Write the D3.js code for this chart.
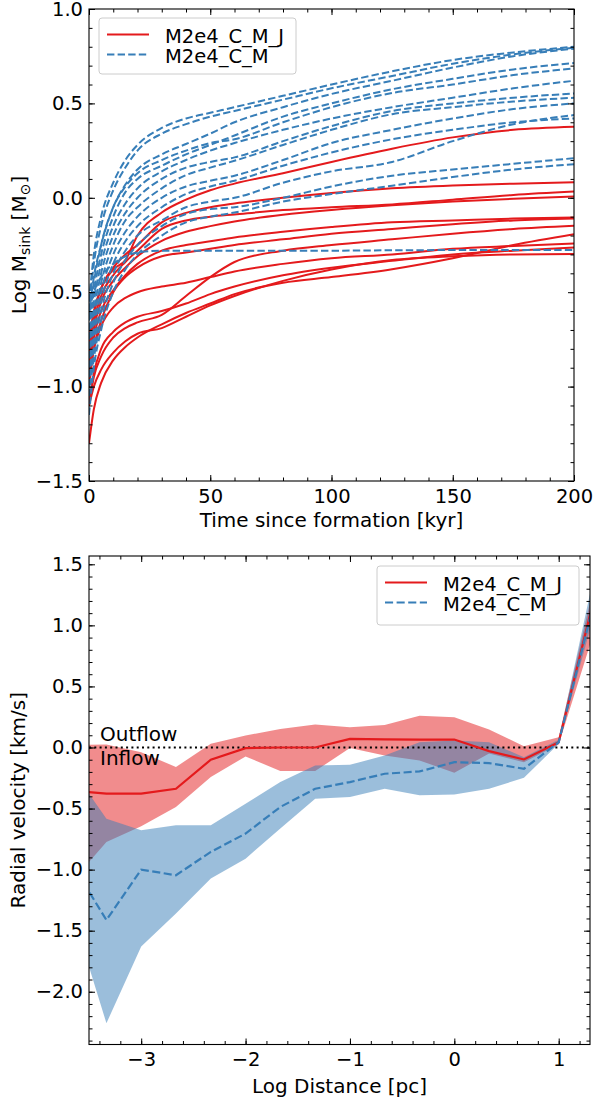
<!DOCTYPE html>
<html><head><meta charset="utf-8">
<script src="https://cdn.jsdelivr.net/npm/d3@7"></script>
<style>body{margin:0;background:#fff} svg text{font-family:"DejaVu Sans",sans-serif;fill:#000}</style>
</head><body><svg id="c" width="594" height="1103"></svg>
<script>
// ---------- DATA: top panel (sink mass growth) ----------
const times = [0,2,5,10,15,20,30,40,50,60,80,100,125,150,175,200];
const redRuns = [
  [-0.75,-0.6,-0.48,-0.38,-0.33,-0.2,-0.078,-0.01,0.04,0.075,0.13,0.19,0.26,0.32,0.36,0.376],
  [-0.8,-0.62,-0.48,-0.37,-0.3,-0.25,-0.13,-0.08,-0.05,-0.03,0.0,0.025,0.05,0.065,0.075,0.083],
  [-0.85,-0.66,-0.52,-0.41,-0.34,-0.28,-0.165,-0.12,-0.1,-0.088,-0.065,-0.05,-0.035,-0.01,0.015,0.033],
  [-0.9,-0.7,-0.55,-0.44,-0.37,-0.31,-0.228,-0.18,-0.15,-0.125,-0.09,-0.065,-0.04,-0.02,-0.005,0.007],
  [-0.92,-0.74,-0.6,-0.49,-0.41,-0.35,-0.28,-0.25,-0.23,-0.21,-0.18,-0.155,-0.13,-0.12,-0.11,-0.104],
  [-1.0,-0.8,-0.65,-0.5,-0.42,-0.37,-0.31,-0.29,-0.27,-0.25,-0.22,-0.19,-0.165,-0.14,-0.12,-0.11],
  [-1.1,-0.95,-0.84,-0.74,-0.69,-0.66,-0.62,-0.52,-0.42,-0.34,-0.28,-0.25,-0.22,-0.19,-0.165,-0.148],
  [-0.95,-0.8,-0.68,-0.58,-0.53,-0.5,-0.47,-0.45,-0.42,-0.39,-0.35,-0.32,-0.3,-0.27,-0.255,-0.242],
  [-1.1,-0.93,-0.8,-0.71,-0.66,-0.63,-0.6,-0.56,-0.51,-0.47,-0.41,-0.37,-0.334,-0.3,-0.28,-0.263],
  [-1.3,-1.12,-0.98,-0.86,-0.79,-0.74,-0.67,-0.61,-0.56,-0.51,-0.45,-0.42,-0.378,-0.32,-0.25,-0.193],
  [-1.1,-1.0,-0.91,-0.82,-0.76,-0.72,-0.69,-0.63,-0.57,-0.52,-0.44,-0.38,-0.33,-0.31,-0.3,-0.298]
];
const blueRuns = [
  [-0.55,-0.3,-0.1,0.08,0.2,0.28,0.37,0.42,0.45,0.48,0.54,0.6,0.67,0.73,0.77,0.80],
  [-0.6,-0.35,-0.15,0.04,0.16,0.25,0.34,0.39,0.43,0.46,0.52,0.58,0.645,0.71,0.76,0.795],
  [-0.65,-0.45,-0.25,-0.05,0.07,0.15,0.23,0.285,0.34,0.4,0.48,0.55,0.62,0.69,0.75,0.79],
  [-0.7,-0.5,-0.3,-0.1,0.03,0.1,0.17,0.23,0.28,0.33,0.43,0.5,0.575,0.63,0.68,0.714],
  [-0.62,-0.42,-0.25,-0.05,0.06,0.13,0.2,0.25,0.29,0.31,0.4,0.48,0.555,0.6,0.65,0.685],
  [-0.75,-0.55,-0.35,-0.15,-0.03,0.05,0.14,0.2,0.25,0.29,0.36,0.42,0.48,0.53,0.58,0.62],
  [-0.8,-0.6,-0.4,-0.2,-0.08,0.0,0.1,0.16,0.19,0.214,0.3,0.38,0.46,0.5,0.53,0.553],
  [-0.85,-0.65,-0.45,-0.25,-0.12,-0.05,0.05,0.12,0.16,0.196,0.28,0.36,0.443,0.48,0.51,0.53],
  [-0.9,-0.7,-0.5,-0.3,-0.18,-0.1,0.0,0.06,0.09,0.117,0.2,0.29,0.36,0.42,0.47,0.50],
  [-0.95,-0.75,-0.55,-0.35,-0.23,-0.15,-0.05,0.02,0.06,0.09,0.17,0.24,0.31,0.36,0.4,0.42],
  [-1.0,-0.8,-0.6,-0.4,-0.28,-0.2,-0.12,-0.05,-0.02,0.0,0.08,0.14,0.19,0.3,0.39,0.438],
  [-1.05,-0.85,-0.65,-0.45,-0.33,-0.25,-0.15,-0.086,-0.06,-0.05,0.0,0.06,0.117,0.15,0.18,0.21],
  [-1.15,-0.9,-0.7,-0.5,-0.38,-0.3,-0.2,-0.13,-0.1,-0.078,-0.02,0.02,0.064,0.11,0.15,0.178],
  [-0.6,-0.5,-0.42,-0.35,-0.31,-0.29,-0.28,-0.28,-0.28,-0.28,-0.28,-0.28,-0.278,-0.277,-0.277,-0.277]
];
const topXTicks = [0,50,100,150,200];
const topYTicks = [-1.5,-1.0,-0.5,0.0,0.5,1.0];

// ---------- DATA: bottom panel (radial velocity profile) ----------
const logDist = [-3.667,-3.333,-3.0,-2.667,-2.333,-2.0,-1.667,-1.333,-1.0,-0.667,-0.333,0,0.333,0.667,1.0,1.333];
const redMed  = [-0.352,-0.378,-0.378,-0.338,-0.10,-0.005,0.0,0.0,0.07,0.066,0.065,0.065,-0.03,-0.098,0.043,1.2];
const redHi   = [0.019,0.025,-0.038,-0.16,0.03,0.098,0.152,0.188,0.166,0.185,0.26,0.248,0.147,0.011,0.084,1.31];
const redLo   = [-1.1,-0.774,-0.645,-0.487,-0.242,-0.073,-0.193,-0.193,-0.005,-0.065,-0.106,-0.207,-0.05,-0.12,0.025,0.93];
const blueMed = [-0.947,-1.413,-1.0,-1.046,-0.855,-0.705,-0.487,-0.338,-0.283,-0.215,-0.196,-0.12,-0.128,-0.174,0.043,1.17];
const blueHi  = [-0.173,-0.583,-0.678,-0.637,-0.637,-0.46,-0.283,-0.147,-0.142,-0.065,0.043,0.057,0.043,-0.079,0.063,1.39];
const blueLo  = [-1.332,-2.258,-1.63,-1.36,-1.073,-0.91,-0.664,-0.42,-0.406,-0.338,-0.392,-0.384,-0.338,-0.248,0.03,1.07];
const botXTicks = [-3,-2,-1,0,1];
const botYTicks = [-2.0,-1.5,-1.0,-0.5,0.0,0.5,1.0,1.5];
const seriesNames = ["M2e4_C_M_J","M2e4_C_M"];

// ---------- DRAWING ----------
const RED = '#e41a1c', BLUE = '#377eb8';
const FS = 19.5;
const svg = d3.select('#c');
const fmt1 = d3.format('.1f'), fmt0 = d3.format('d');

function frame(P, x, y, xTicks, yTicks, xMinor, yMinor, xf, yf) {
  const g = svg.append('g');
  const inner = 6, innerMin = 3.5;
  g.append('g').attr('transform',`translate(0,${P.b})`)
    .call(d3.axisBottom(x).tickValues(xTicks).tickSize(-inner).tickPadding(8).tickFormat(xf));
  g.append('g').attr('transform',`translate(0,${P.b})`)
    .call(d3.axisBottom(x).tickValues(xMinor).tickSize(-innerMin).tickFormat(''));
  g.append('g').attr('transform',`translate(0,${P.t})`)
    .call(d3.axisTop(x).tickValues(xTicks).tickSize(-inner).tickFormat(''));
  g.append('g').attr('transform',`translate(0,${P.t})`)
    .call(d3.axisTop(x).tickValues(xMinor).tickSize(-innerMin).tickFormat(''));
  g.append('g').attr('transform',`translate(${P.l},0)`)
    .call(d3.axisLeft(y).tickValues(yTicks).tickSize(-inner).tickPadding(6).tickFormat(yf));
  g.append('g').attr('transform',`translate(${P.l},0)`)
    .call(d3.axisLeft(y).tickValues(yMinor).tickSize(-innerMin).tickFormat(''));
  g.append('g').attr('transform',`translate(${P.r},0)`)
    .call(d3.axisRight(y).tickValues(yTicks).tickSize(-inner).tickFormat(''));
  g.append('g').attr('transform',`translate(${P.r},0)`)
    .call(d3.axisRight(y).tickValues(yMinor).tickSize(-innerMin).tickFormat(''));
  g.selectAll('.domain').remove();
  g.selectAll('.tick line').attr('stroke','#000').attr('stroke-width',1);
  g.selectAll('g').attr('font-family','DejaVu Sans').attr('font-size',FS);
  g.selectAll('.tick text').attr('fill','#000');
  g.append('rect').attr('x',P.l).attr('y',P.t).attr('width',P.r-P.l).attr('height',P.b-P.t)
    .attr('fill','none').attr('stroke','#000').attr('stroke-width',1.1);
}

function clip(id, P) {
  svg.append('clipPath').attr('id',id).append('rect')
    .attr('x',P.l).attr('y',P.t).attr('width',P.r-P.l).attr('height',P.b-P.t);
}

function legend(x0, y0, w, h, rows) {
  const g = svg.append('g');
  g.append('rect').attr('x',x0).attr('y',y0).attr('width',w).attr('height',h).attr('rx',3)
    .attr('fill','#fff').attr('fill-opacity',0.8).attr('stroke','#cccccc').attr('stroke-width',1);
  rows.forEach((r,i)=>{
    const yy = y0 + 16.5 + i*20;
    g.append('line').attr('x1',x0+8).attr('x2',x0+50).attr('y1',yy).attr('y2',yy)
      .attr('stroke',r.c).attr('stroke-width',2.2).attr('stroke-dasharray',r.dash||null);
    g.append('text').attr('x',x0+66).attr('y',yy+8).attr('font-size',19.5).text(r.name);
  });
}

// ---- top panel ----
const P1 = {l:89, r:574, t:9, b:481};
const x1 = d3.scaleLinear().domain([0,200]).range([P1.l,P1.r]);
const y1 = d3.scaleLinear().domain([-1.5,1.0]).range([P1.b,P1.t]);
clip('c1',P1);
const line1 = d3.line().x((d,i)=>x1(times[i])).y(d=>y1(d)).curve(d3.curveMonotoneX);
const g1 = svg.append('g').attr('clip-path','url(#c1)');
g1.selectAll('path.r').data(redRuns).join('path').attr('class','r')
  .attr('d',line1).attr('fill','none').attr('stroke',RED).attr('stroke-width',2);
g1.selectAll('path.b').data(blueRuns).join('path').attr('class','b')
  .attr('d',line1).attr('fill','none').attr('stroke',BLUE).attr('stroke-width',2)
  .attr('stroke-dasharray','7.4,3.2');
frame(P1,x1,y1,topXTicks,topYTicks,d3.range(0,201,10),d3.range(-15,11,1).map(v=>v/10),fmt0,fmt1);
legend(99,18,197,56,[{name:seriesNames[0],c:RED},{name:seriesNames[1],c:BLUE,dash:'7.4,3.2'}]);
svg.append('text').attr('x',(P1.l+P1.r)/2).attr('y',526.5).attr('text-anchor','middle')
  .attr('font-size',20).text('Time since formation [kyr]');
const yl1 = svg.append('text').attr('transform',`translate(26,${(P1.t+P1.b)/2}) rotate(-90)`)
  .attr('text-anchor','middle').attr('font-size',20);
yl1.append('tspan').text('Log M');
yl1.append('tspan').attr('font-size',14).attr('dy',4).text('sink');
yl1.append('tspan').attr('dy',-4).text(' [M');
yl1.append('tspan').attr('font-size',14).attr('dy',4).text('\u2299');
yl1.append('tspan').attr('dy',-4).text(']');

// ---- bottom panel ----
const P2 = {l:89, r:590, t:556, b:1044.5};
const x2 = d3.scaleLinear().domain([-3.5,1.3]).range([P2.l,P2.r]);
const y2 = d3.scaleLinear().domain([-2.432,1.568]).range([P2.b,P2.t]);
clip('c2',P2);
const g2 = svg.append('g').attr('clip-path','url(#c2)');
const band = (lo,hi)=>d3.area().x((d,i)=>x2(logDist[i])).y0((d,i)=>y2(lo[i])).y1((d,i)=>y2(hi[i]))(logDist);
const med = (arr)=>d3.line().x((d,i)=>x2(logDist[i])).y(d=>y2(d))(arr);
g2.append('path').attr('d',band(redLo,redHi)).attr('fill',RED).attr('fill-opacity',0.5);
g2.append('path').attr('d',band(blueLo,blueHi)).attr('fill',BLUE).attr('fill-opacity',0.5);
g2.append('line').attr('x1',P2.l).attr('x2',P2.r).attr('y1',y2(0)).attr('y2',y2(0))
  .attr('stroke','#000').attr('stroke-width',2).attr('stroke-dasharray','2,3.3');
g2.append('path').attr('d',med(redMed)).attr('fill','none').attr('stroke',RED).attr('stroke-width',2.2);
g2.append('path').attr('d',med(blueMed)).attr('fill','none').attr('stroke',BLUE).attr('stroke-width',2.2)
  .attr('stroke-dasharray','8.1,3.5');
frame(P2,x2,y2,botXTicks,botYTicks,d3.range(-34,13,2).map(v=>v/10),d3.range(-24,16,1).map(v=>v/10),fmt0,fmt1);
legend(377,566,202,59,[{name:seriesNames[0],c:RED},{name:seriesNames[1],c:BLUE,dash:'8.1,3.5'}]);
svg.append('text').attr('x',100).attr('y',740.5).attr('font-size',20).text('Outflow');
svg.append('text').attr('x',100).attr('y',764.5).attr('font-size',20).text('Inflow');
svg.append('text').attr('x',(P2.l+P2.r)/2).attr('y',1092.5).attr('text-anchor','middle')
  .attr('font-size',20).text('Log Distance [pc]');
svg.append('text').attr('transform',`translate(25,${(P2.t+P2.b)/2}) rotate(-90)`)
  .attr('text-anchor','middle').attr('font-size',20).text('Radial velocity [km/s]');
</script></body></html>
